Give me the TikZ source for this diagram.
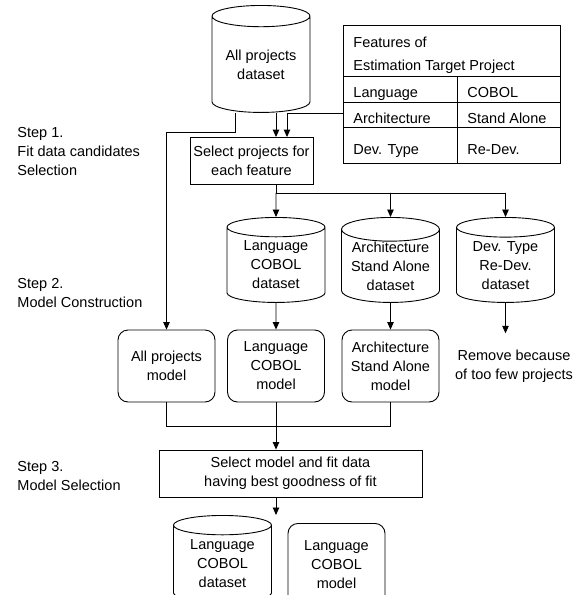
\documentclass[tikz,border=0pt]{standalone}
\usepackage{fontspec}
\setmainfont{Liberation Sans}
\usetikzlibrary{shapes.geometric, arrows.meta}
\tikzset{>={Triangle[length=7.5pt,width=6.5pt]},
  txt/.style={font=\fontsize{14.5}{19}\selectfont, align=center, inner sep=0pt},
  dbase/.style={txt, draw, cylinder, shape border rotate=90, aspect=0.3, minimum width=98pt},
  mdl/.style={txt, draw, rounded corners=10pt, minimum width=97pt, minimum height=72pt},
  proc/.style={txt, draw, minimum height=47pt},
  lbl/.style={txt, align=left, anchor=west},
  cell/.style={txt, anchor=base west}}

\begin{document}
\begin{tikzpicture}[x=1pt, y=-1pt, line width=0.9pt]
    \useasboundingbox (0,0) rectangle (587,595);
    \node[dbase, anchor=north, minimum height=107pt] (alldata) at (261,5) {All projects\\dataset};
    \node[draw, anchor=north west, minimum width=217pt, minimum height=138pt, inner sep=0pt] (feat) at (343,25) {};
    \foreach \y in {51,77,102} \draw ([yshift=-\y pt]feat.north west) -- ([yshift=-\y pt]feat.north east);
    \draw ([xshift=114pt,yshift=-51pt]feat.north west) -- ([xshift=114pt]feat.south west);
    \node[cell] (fhead) at (353,47) {Features of};
    \node[cell] (ftarget) at (353,70) {Estimation Target Project};
    \node[cell] (flang) at (353,97) {Language};
    \node[cell] (fcobol) at (467,97) {COBOL};
    \node[cell] (farch) at (353,123) {Architecture};
    \node[cell] (fstand) at (467,123) {Stand Alone};
    \node[cell] (fdev) at (353,154) {Dev. Type};
    \node[cell] (fredev) at (467,154) {Re-Dev.};
    \node[proc, minimum width=123pt] (sel) at (251.5,161) {Select projects for\\each feature};
    \node[dbase, anchor=north, minimum height=85pt] (langd) at (276,217) {Language\\COBOL\\dataset};
    \node[dbase, anchor=north, minimum height=85pt] (archd) at (390.5,217) {Architecture\\Stand Alone\\dataset};
    \node[dbase, anchor=north, minimum height=85pt] (devd) at (505.5,217) {Dev. Type\\Re-Dev.\\dataset};
    \node[mdl] (allm) at (166.5,366) {All projects\\model};
    \node[mdl] (langm) at (276,366) {Language\\COBOL\\model};
    \node[mdl] (archm) at (390.5,366) {Architecture\\Stand Alone\\model};
    \node[txt] (rmv) at (514,366) {Remove because\\of too few projects};
    \node[proc, minimum width=263pt] (msel) at (290.5,473.5) {Select model and fit data\\having best goodness of fit};
    \node[dbase, anchor=north, minimum height=87pt] (findata) at (222.5,515) {Language\\COBOL\\dataset};
    \node[mdl, anchor=north, minimum height=82pt] (finm) at (336.5,523) {Language\\COBOL\\model};
    \node[lbl] (step1) at (17,152) {Step 1.\\Fit data candidates\\Selection};
    \node[lbl] (step2) at (17,293) {Step 2.\\Model Construction};
    \node[lbl] (step3) at (17,476) {Step 3.\\Model Selection};
    \draw[->] (alldata.south -| langd) -- (sel.north -| langd);
    \draw[->] ([yshift=-88pt]feat.north west) -| ([xshift=11pt]sel.north -| langd);
    \draw[->] ([xshift=-26pt]alldata.south) -- ++(0,20) -| (allm.north);
    \draw (sel.south -| langd) -- ++(0,8) coordinate (fork) -- (fork -| devd);
    \foreach \n in {langd,archd,devd} \draw[->] (fork -| \n) -- (\n.north);
    \draw[->] (langd.south) -- (langm.north);
    \draw[->] (archd.south) -- (archm.north);
    \draw[->] (devd.south) -- ([yshift=16pt]rmv.north -| devd);
    \draw (allm.south) -- ++(0,24) coordinate (join) -- (join -| archm) -- (archm.south);
    \draw (langm.south) -- (join -| langm);
    \draw[->] (join -| langm) -- (msel.north -| langm);
    \draw[->] (msel.south -| langm) -- (findata.north -| langm);
\end{tikzpicture}
\end{document}
